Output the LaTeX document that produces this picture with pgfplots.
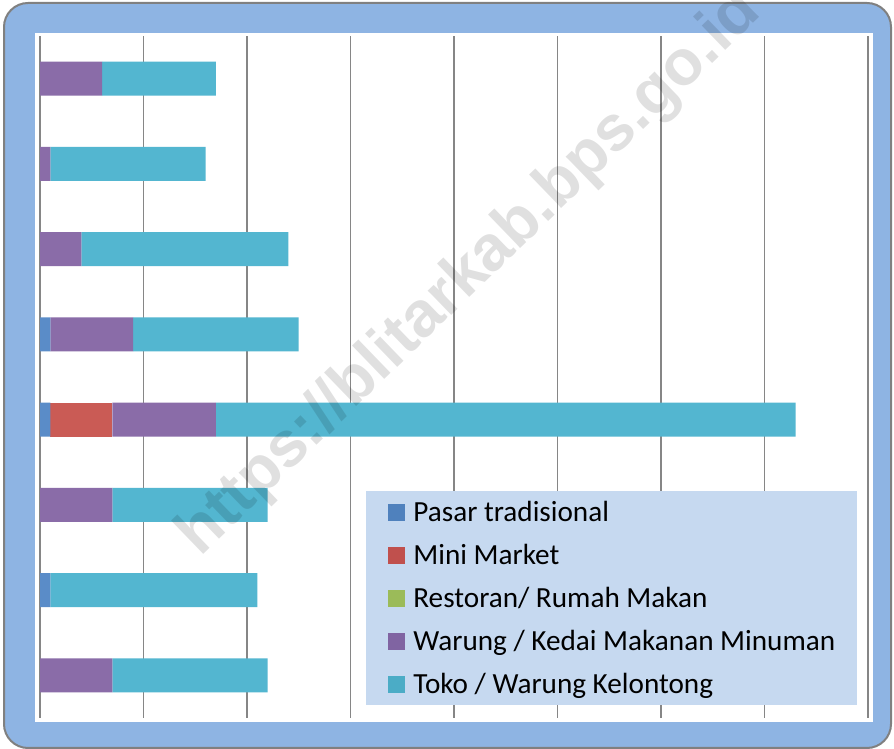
\documentclass[border=0pt]{standalone}
\usepackage{pgfplots}
\pgfplotsset{compat=1.18}
\usepackage{fontspec}
\setmainfont{Carlito}
\newfontfamily\wmfont{Liberation Sans}

\definecolor{frameblue}{HTML}{8EB4E3}
\definecolor{legfill}{HTML}{C6D9F0}
\definecolor{gridgray}{HTML}{868686}
\definecolor{cPasar}{HTML}{4F81BD}
\definecolor{cMini}{HTML}{C0504D}
\definecolor{cResto}{HTML}{9BBB59}
\definecolor{cWarung}{HTML}{8064A2}
\definecolor{cToko}{HTML}{4BACC6}
\definecolor{bPasar}{HTML}{5A8CC8}
\definecolor{bMini}{HTML}{CA5B55}
\definecolor{bWarung}{HTML}{8A6CA8}
\definecolor{bToko}{HTML}{53B6D0}

\begin{document}
\begin{tikzpicture}[x=0.5pt,y=0.5pt]
\useasboundingbox (0,0) rectangle (894,749);
% frame
\fill[frameblue, draw=gray, line width=1pt, rounded corners=12pt] (4,1) rectangle (891,746);
\fill[white] (35,27) rectangle (873,716);

\begin{axis}[
    at={(20pt,15.5pt)}, anchor=south west,
    scale only axis,
    width=414pt, height=341pt,
    xbar stacked,
    bar width=17pt,
    xmin=0, xmax=80, ymin=0.5, ymax=8.5,
    xtick={0,10,...,80}, xticklabels={},
    ytick=\empty,
    xmajorgrids,
    grid style={gridgray, line width=0.8pt},
    axis line style={draw=none},
    tick style={draw=none},
    legend cell align=left,
    legend style={
        at={(0.3937,0.3328)}, anchor=north west,
        fill=legfill, draw=none,
        inner xsep=11pt, inner ysep=2.8pt,
        row sep=6.1pt,
        font=\fontsize{14.6}{17.5}\selectfont,
        nodes={inner sep=0pt, text height=12.4pt, text depth=3pt},
        /tikz/every odd column/.append style={column sep=4pt},
    },
    legend image code/.code={\fill[#1] (0pt,-4.25pt) rectangle (8.5pt,4.25pt);},
]
% Pasar tradisional
\addplot[fill=bPasar, draw=none, forget plot] coordinates {(0,1) (1,2) (0,3) (1,4) (1,5) (0,6) (0,7) (0,8)};
% Mini Market
\addplot[fill=bMini, draw=none, forget plot] coordinates {(0,1) (0,2) (0,3) (6,4) (0,5) (0,6) (0,7) (0,8)};
% Restoran / Rumah Makan
\addplot[fill=cResto, draw=none, forget plot] coordinates {(0,1) (0,2) (0,3) (0,4) (0,5) (0,6) (0,7) (0,8)};
% Warung / Kedai Makanan Minuman
\addplot[fill=bWarung, draw=none, forget plot] coordinates {(7,1) (0,2) (7,3) (10,4) (8,5) (4,6) (1,7) (6,8)};
% Toko / Warung Kelontong
\addplot[fill=bToko, draw=none, forget plot] coordinates {(15,1) (20,2) (15,3) (56,4) (16,5) (20,6) (15,7) (11,8)};

\addlegendimage{fill=cPasar, draw=none}
\addlegendentry{Pasar tradisional}
\addlegendimage{fill=cMini, draw=none}
\addlegendentry{Mini Market}
\addlegendimage{fill=cResto, draw=none}
\addlegendentry{Restoran/ Rumah Makan}
\addlegendimage{fill=cWarung, draw=none}
\addlegendentry{Warung / Kedai Makanan Minuman}
\addlegendimage{fill=cToko, draw=none}
\addlegendentry{Toko / Warung Kelontong}
\end{axis}

% watermark
\node[anchor=base west, rotate=44, inner sep=0pt, text=black, text opacity=0.12,
      font=\wmfont\bfseries\fontsize{32}{38}\selectfont] at (200,191) {https://blitarkab.bps.go.id};
\end{tikzpicture}
\end{document}
